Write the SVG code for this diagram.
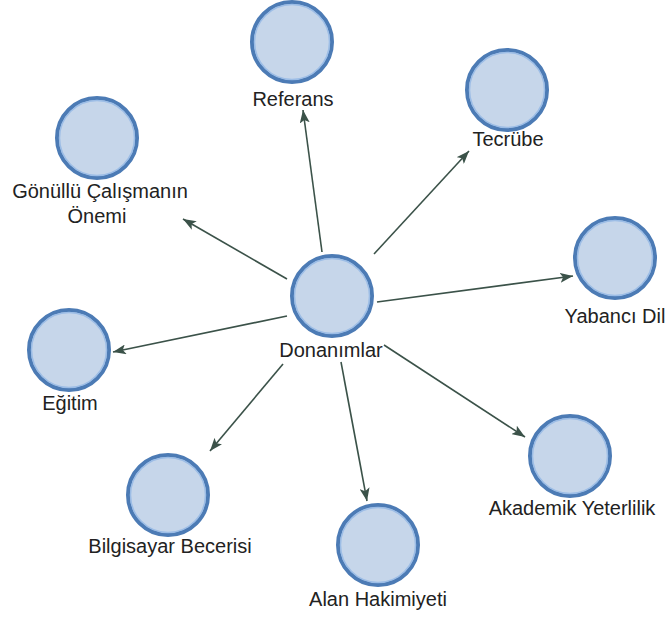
<svg xmlns="http://www.w3.org/2000/svg" width="666" height="617" viewBox="0 0 666 617">
  <style>
    .node-ring { fill: #c6d6ea; stroke: #4c7bb5; stroke-width: 4; }
    .node-inner { fill: none; stroke: #9cbde6; stroke-width: 1.5; }
    .label { font-family: "Liberation Sans", Arial, sans-serif; font-size: 20px; fill: #222; text-anchor: middle; }
    .edge { stroke: #3b5249; stroke-width: 1.6; fill: none; marker-end: url(#arrow); }
  </style>
  <defs>
    <marker id="arrow" markerUnits="userSpaceOnUse" markerWidth="14" markerHeight="10" refX="13" refY="5" orient="auto">
      <path d="M0,0 L13,5 L0,10 L3,5 z" fill="#3b5249"/>
    </marker>
  </defs>
  <rect width="666" height="617" fill="#ffffff"/>

  <!-- connectors from the central node -->
  <g id="connectors">
    <line class="edge" x1="322" y1="252" x2="303" y2="110"/>
    <line class="edge" x1="374" y1="254" x2="469" y2="151"/>
    <line class="edge" x1="287" y1="279" x2="183" y2="219"/>
    <line class="edge" x1="377" y1="302" x2="573" y2="276"/>
    <line class="edge" x1="287" y1="316" x2="113" y2="352"/>
    <line class="edge" x1="283" y1="364" x2="210" y2="451"/>
    <line class="edge" x1="341" y1="362" x2="367" y2="501"/>
    <line class="edge" x1="384" y1="345" x2="525" y2="437"/>
  </g>

  <g id="donanimlar">
    <circle class="node-ring" cx="332" cy="296" r="40"/>
    <circle class="node-inner" cx="332" cy="296" r="37.5"/>
    <text class="label" x="331" y="357">Donanımlar</text>
  </g>

  <g id="referans">
    <circle class="node-ring" cx="292" cy="42" r="40"/>
    <circle class="node-inner" cx="292" cy="42" r="37.5"/>
    <text class="label" x="293" y="106">Referans</text>
  </g>

  <g id="tecrube">
    <circle class="node-ring" cx="507" cy="90" r="40"/>
    <circle class="node-inner" cx="507" cy="90" r="37.5"/>
    <text class="label" x="508" y="146">Tecrübe</text>
  </g>

  <g id="gonullu">
    <circle class="node-ring" cx="97" cy="138" r="40"/>
    <circle class="node-inner" cx="97" cy="138" r="37.5"/>
    <text class="label" x="100" y="198">Gönüllü Çalışmanın</text>
    <text class="label" x="97" y="223">Önemi</text>
  </g>

  <g id="yabanci-dil">
    <circle class="node-ring" cx="615" cy="258" r="40"/>
    <circle class="node-inner" cx="615" cy="258" r="37.5"/>
    <text class="label" x="615" y="323">Yabancı Dil</text>
  </g>

  <g id="egitim">
    <circle class="node-ring" cx="69" cy="350" r="40"/>
    <circle class="node-inner" cx="69" cy="350" r="37.5"/>
    <text class="label" x="70" y="410">Eğitim</text>
  </g>

  <g id="bilgisayar">
    <circle class="node-ring" cx="168" cy="495" r="40"/>
    <circle class="node-inner" cx="168" cy="495" r="37.5"/>
    <text class="label" x="170" y="553">Bilgisayar Becerisi</text>
  </g>

  <g id="alan">
    <circle class="node-ring" cx="378" cy="545" r="40"/>
    <circle class="node-inner" cx="378" cy="545" r="37.5"/>
    <text class="label" x="378" y="606">Alan Hakimiyeti</text>
  </g>

  <g id="akademik">
    <circle class="node-ring" cx="570" cy="456" r="40"/>
    <circle class="node-inner" cx="570" cy="456" r="37.5"/>
    <text class="label" x="572" y="515">Akademik Yeterlilik</text>
  </g>
</svg>
